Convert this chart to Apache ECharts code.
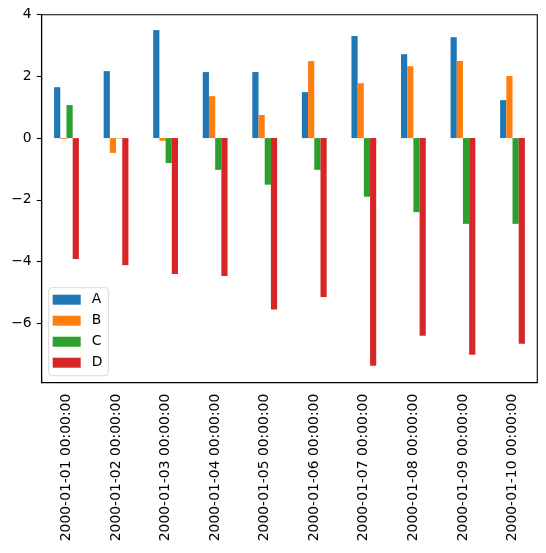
<!DOCTYPE html>
<html>
<head>
<meta charset="utf-8">
<script src="https://cdn.jsdelivr.net/npm/echarts@6/dist/echarts.min.js"></script>
<style>
  html, body { margin: 0; padding: 0; background: #fff; }
  #chart { width: 546px; height: 553px; }
</style>
</head>
<body>
<div id="chart"></div>
<script>
    var categories = ['2000-01-01 00:00:00', '2000-01-02 00:00:00', '2000-01-03 00:00:00',
        '2000-01-04 00:00:00', '2000-01-05 00:00:00', '2000-01-06 00:00:00',
        '2000-01-07 00:00:00', '2000-01-08 00:00:00', '2000-01-09 00:00:00',
        '2000-01-10 00:00:00'];
    var seriesA = [1.65, 2.17, 3.50, 2.14, 2.14, 1.49, 3.31, 2.72, 3.27, 1.23];
    var seriesB = [-0.03, -0.48, -0.09, 1.36, 0.75, 2.50, 1.78, 2.33, 2.50, 2.01];
    var seriesC = [1.07, -0.01, -0.81, -1.03, -1.51, -1.03, -1.90, -2.40, -2.78, -2.78];
    var seriesD = [-3.92, -4.12, -4.41, -4.47, -5.56, -5.15, -7.38, -6.41, -7.02, -6.67];
    var colors = ['#1f77b4', '#ff7f0e', '#2ca02c', '#d62728'];

    var font = 'DejaVu Sans';
    var chart = echarts.init(document.getElementById('chart'));

    function bar(name, data) {
        return {
            name: name,
            type: 'bar',
            data: data,
            barWidth: 6.2,
            barGap: '0%',
            animation: false
        };
    }

    chart.setOption({
        animation: false,
        color: colors,
        textStyle: { fontFamily: font },
        grid: {
            left: 41.7,
            right: 8.7,
            top: 14.7,
            bottom: 170.3,
            show: true,
            borderColor: '#000',
            borderWidth: 1.1
        },
        legend: {
            orient: 'vertical',
            left: 48.7,
            top: 287.7,
            padding: [5, 6, 6, 4],
            itemWidth: 28,
            itemHeight: 10,
            itemGap: 7,
            icon: 'rect',
            borderColor: '#d9d9d9',
            borderWidth: 1,
            borderRadius: 3,
            backgroundColor: 'rgba(255,255,255,0.8)',
            textStyle: { fontFamily: font, fontSize: 13.9, lineHeight: 14, color: '#000', padding: [0, 0, 0, 6] },
            data: ['A', 'B', 'C', 'D']
        },
        xAxis: {
            type: 'category',
            data: categories,
            boundaryGap: true,
            axisLine: { onZero: false, lineStyle: { color: '#000', width: 1.1 } },
            axisTick: { alignWithLabel: true, length: 4.9, lineStyle: { color: '#000', width: 1.1 } },
            axisLabel: { rotate: 90, margin: 11, fontSize: 13.9, color: '#000', fontFamily: font, interval: 0 },
            splitLine: { show: false }
        },
        yAxis: {
            type: 'value',
            min: -7.93,
            max: 4,
            splitNumber: 5,
            axisLine: { show: true, lineStyle: { color: '#000', width: 1.1 } },
            axisTick: { show: true, length: 4.9, lineStyle: { color: '#000', width: 1.1 } },
            axisLabel: {
                margin: 10,
                fontSize: 13.9,
                color: '#000',
                fontFamily: font,
                showMinLabel: false,
                formatter: function (v) { return String(v).replace('-', '\u2212'); }
            },
            splitLine: { show: false }
        },
        series: [
            bar('A', seriesA),
            bar('B', seriesB),
            bar('C', seriesC),
            bar('D', seriesD)
        ]
    });
</script>
</body>
</html>
